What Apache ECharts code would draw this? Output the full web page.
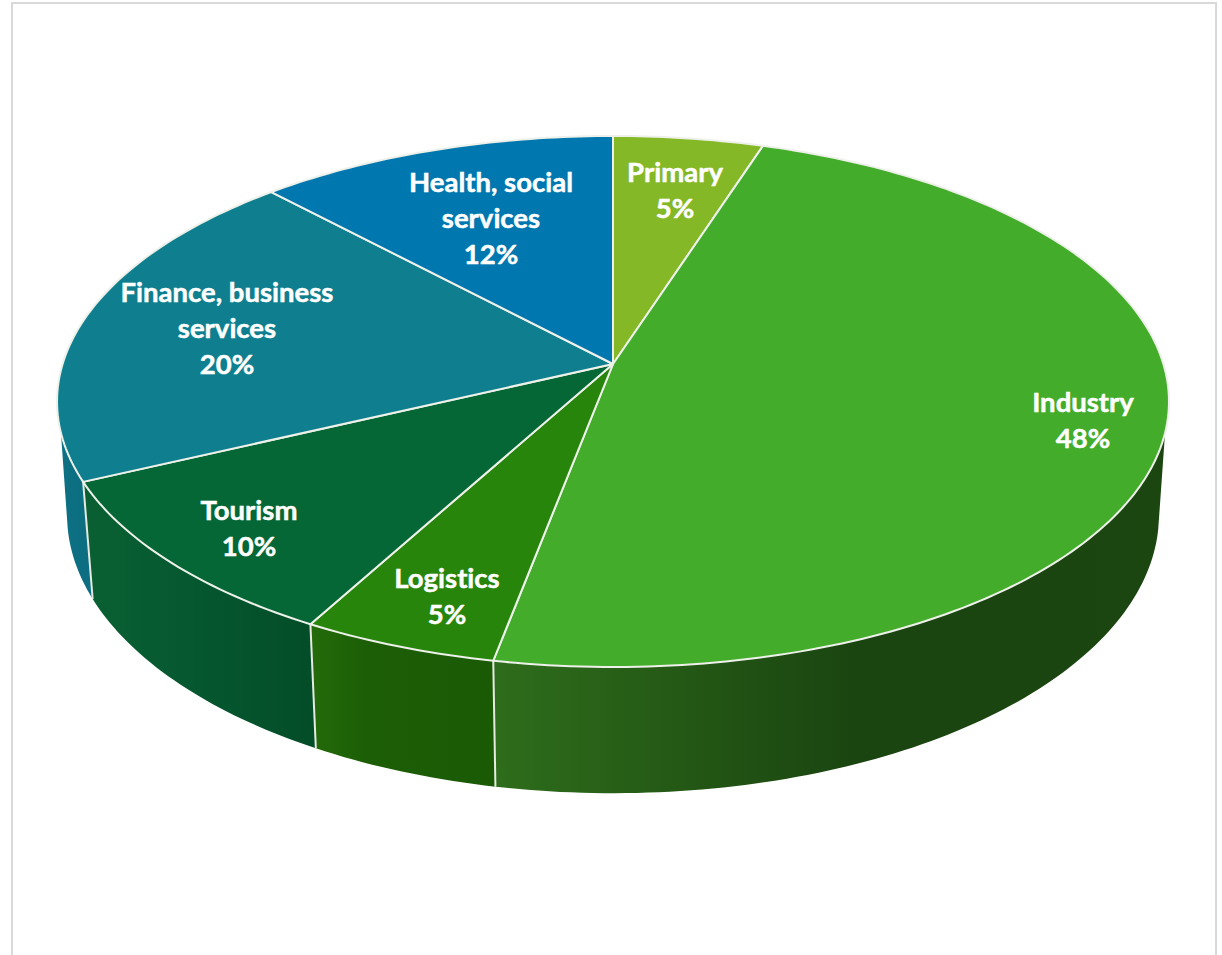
<!DOCTYPE html>
<html>
<head>
<meta charset="utf-8">
<title>Employment by sector</title>
<style>
  html, body { margin: 0; padding: 0; background: #fff; overflow: hidden; }
  #chart { width: 1222px; height: 955px; }
  #chart text { font-variant-ligatures: none !important; font-feature-settings: "liga" 0, "clig" 0 !important; }
</style>
<script src="https://cdn.jsdelivr.net/npm/echarts@6/dist/echarts.min.js"></script>
</head>
<body>
<div id="chart"></div>
<script>
// Sector names and shares, clockwise from twelve o'clock
const categories = ['Primary', 'Industry', 'Logistics', 'Tourism', 'Finance, business\nservices', 'Health, social\nservices'];
const shares = [5, 48, 5, 10, 20, 12];

// Colours of the top faces and of the rim (left and right gradient stops)
const topColors = ['#85B827', '#43AC2B', '#27850B', '#046735', '#0F7F8F', '#0077AE'];
const rimStops = [
  [[0, '#5F8A1C'], [1, '#5F8A1C']],
  [[0, '#2E6D1B'], [0.55, '#1A4410'], [1, '#1B4610']],
  [[0, '#246B0A'], [0.3, '#1C5E06'], [1, '#1A5A05']],
  [[0, '#0A6032'], [0.5, '#055730'], [1, '#034D28']],
  [[0, '#0D7083'], [1, '#0C6E80']],
  [[0, '#005A85'], [1, '#005A85']]
];

// Label centres relative to the pie's apex
const labelOffsets = [[62, -175], [470, 55], [-166, 231], [-364, 163], [-386, -37], [-122, -147]];

// Perspective model of the tilted disc: a circle seen through a homography
const apex = { x: 613, y: 364 };
const upper = { apexY: 364, rx: 550.4, ry: 260.2, persp: 0.1412, shrink: 1 };
const lower = { apexY: 475.3, rx: 550.4, ry: 273, persp: 0.1412, shrink: 0.982 };
const rimTopLimits = [104.8, 255.2];
const rimBottomLimits = [101, 259];

function discPoint(disc, deg) {
  const t = deg * Math.PI / 180;
  const d = 1 + disc.persp * Math.cos(t);
  return [
    apex.x + disc.shrink * disc.rx * Math.sin(t) / d,
    disc.apexY - disc.ry * Math.cos(t) / d
  ];
}

function arc(disc, from, to) {
  const pts = [];
  const steps = Math.max(2, Math.ceil(Math.abs(to - from)));
  for (let i = 0; i <= steps; i++) {
    pts.push(discPoint(disc, from + (to - from) * i / steps));
  }
  return pts;
}

const total = shares.reduce((s, v) => s + v, 0);

function renderSlice(params, api) {
  const i = params.dataIndex;
  const value = api.value(0);
  const before = shares.slice(0, i).reduce((s, v) => s + v, 0);
  const start = before / total * 360;
  const end = (before + value) / total * 360;
  const children = [];

  // Rim wall, only where it faces the viewer
  const topFrom = Math.max(start, rimTopLimits[0]);
  const topTo = Math.min(end, rimTopLimits[1]);
  if (topFrom < topTo) {
    const botFrom = start <= rimTopLimits[0] ? rimBottomLimits[0] : start;
    const botTo = end >= rimTopLimits[1] ? rimBottomLimits[1] : end;
    children.push({
      type: 'polygon',
      z2: 1,
      shape: { points: arc(upper, topFrom, topTo).concat(arc(lower, botTo, botFrom)) },
      style: {
        fill: { type: 'linear', x: 0, y: 0, x2: 1, y2: 0, colorStops: rimStops[i].map(s => ({ offset: s[0], color: s[1] })) }
      }
    });
    if (start > rimTopLimits[0]) {
      const a = discPoint(upper, start);
      const b = discPoint(lower, start);
      children.push({
        type: 'line',
        z2: 2,
        shape: { x1: a[0], y1: a[1], x2: b[0], y2: b[1] },
        style: { stroke: '#E6EAE2', lineWidth: 2 }
      });
    }
  }

  // Top face of the slice
  children.push({
    type: 'polygon',
    z2: 3,
    shape: { points: [[apex.x, apex.y]].concat(arc(upper, start, end)) },
    style: { fill: topColors[i], stroke: '#EEF1EA', lineWidth: 2, lineJoin: 'round' }
  });

  // Name and share
  const off = labelOffsets[i];
  children.push({
    type: 'text',
    z2: 5,
    style: {
      text: categories[i] + '\n' + value + '%',
      x: apex.x + off[0],
      y: apex.y + off[1],
      fill: '#FFFFFF',
      stroke: '#FFFFFF',
      lineWidth: 0.5,
      font: 'bold 27.5px Lato',
      lineHeight: 36,
      align: 'center',
      verticalAlign: 'middle'
    }
  });

  return { type: 'group', children };
}

const chart = echarts.init(document.getElementById('chart'), null, { renderer: 'svg' });
chart.setOption({
  animation: false,
  backgroundColor: '#FFFFFF',
  graphic: [{
    type: 'rect',
    silent: true,
    z: -1,
    shape: { x: 12, y: 3, width: 1204, height: 980 },
    style: { fill: 'none', stroke: '#D9D9D9', lineWidth: 2 }
  }],
  series: [{
    type: 'custom',
    coordinateSystem: 'none',
    silent: true,
    renderItem: renderSlice,
    data: shares.map((v, i) => ({ name: categories[i], value: [v] }))
  }]
});
</script>
</body>
</html>
